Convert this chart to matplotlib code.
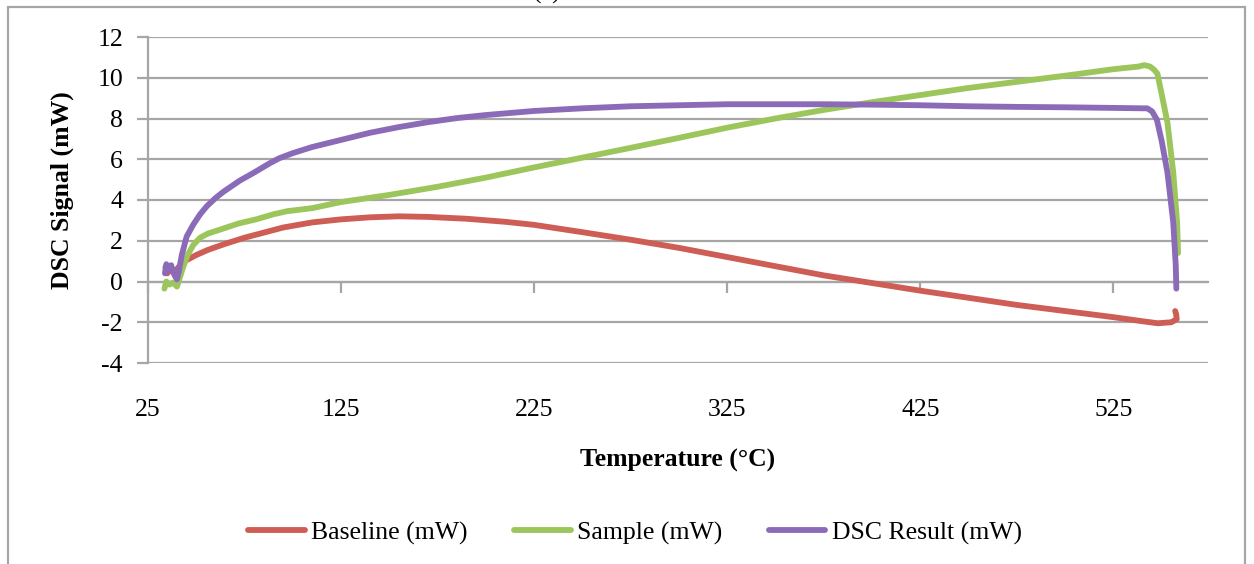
import matplotlib
matplotlib.use("Agg")
import matplotlib.pyplot as plt
from matplotlib.patches import Rectangle

# ---------------- data ----------------
baseline_T = [34, 35, 36.5, 38, 40, 42, 45, 50, 56, 65, 75, 85, 95, 110, 125, 140,
              155, 170, 190, 210, 225, 250, 275, 300, 325, 350, 375, 395, 425, 450,
              475, 500, 525, 540, 548, 555, 557.8, 557.5, 557]
baseline_V = [0.7, 0.4, 0.65, 0.45, 0.6, 0.85, 1.05, 1.3, 1.55, 1.85, 2.15, 2.4, 2.65,
              2.9, 3.05, 3.15, 3.2, 3.17, 3.08, 2.93, 2.78, 2.42, 2.05, 1.65, 1.2, 0.75,
              0.3, 0.0, -0.45, -0.8, -1.15, -1.45, -1.75, -1.95, -2.05, -2.0, -1.85,
              -1.6, -1.45]

sample_T = [33.5, 34.5, 36, 38, 40, 41.5, 43, 45.5, 48.5, 52, 56, 64, 72, 81, 90, 97,
            110, 125, 150, 175, 200, 225, 250, 275, 300, 325, 350, 375, 400, 425, 450,
            475, 500, 525, 538, 541, 544, 546, 547.8, 550, 553, 556, 558, 558.5]
sample_V = [-0.35, 0.0, -0.15, -0.05, -0.25, 0.2, 0.65, 1.3, 1.8, 2.15, 2.35, 2.6, 2.85,
            3.05, 3.3, 3.45, 3.6, 3.9, 4.25, 4.65, 5.1, 5.6, 6.08, 6.56, 7.05, 7.55, 8.0,
            8.42, 8.8, 9.15, 9.5, 9.8, 10.1, 10.42, 10.55, 10.62, 10.55, 10.4, 10.2, 9.2,
            7.8, 5.35, 2.9, 1.4]

dsc_T = [33.8, 34.5, 35.5, 37, 38.5, 40, 41, 42.5, 45, 48.5, 52, 55.5, 60, 64, 72.5, 80,
         88, 93, 100, 110, 125, 140, 155, 170, 185, 200, 225, 250, 275, 300, 325, 350,
         375, 400, 425, 450, 475, 500, 525, 540, 542.5, 545, 547.5, 550, 553, 556,
         557.3, 557.6]
dsc_V = [0.4, 0.85, 0.55, 0.8, 0.35, 0.1, 0.5, 1.3, 2.2, 2.8, 3.3, 3.7, 4.1, 4.4, 4.95,
         5.35, 5.8, 6.05, 6.3, 6.6, 6.95, 7.3, 7.58, 7.82, 8.02, 8.17, 8.37, 8.5, 8.6,
         8.65, 8.7, 8.7, 8.7, 8.68, 8.65, 8.6, 8.57, 8.55, 8.52, 8.5, 8.5, 8.35, 7.95,
         6.9, 5.35, 2.9, 0.8, -0.35]

series_names = ["Baseline (mW)", "Sample (mW)", "DSC Result (mW)"]
x_ticks = [25, 125, 225, 325, 425, 525]
y_ticks = [-4, -2, 0, 2, 4, 6, 8, 10, 12]

# ---------------- style ----------------
FONT = "Liberation Serif"
plt.rcParams["font.family"] = [FONT, "DejaVu Serif"]
plt.rcParams["axes.unicode_minus"] = False
colors = ["#CE5D55", "#9CC65B", "#8B6BB8"]
grid_c = "#A6A6A6"

W, H = 1254, 564
fig = plt.figure(figsize=(W / 100, H / 100), dpi=100)
ax = fig.add_axes([148 / W, 1 - 363 / H, (1208 - 148) / W, (363 - 37) / H])

lw = 4.2
for T, V, c, name in zip([baseline_T, sample_T, dsc_T], [baseline_V, sample_V, dsc_V],
                         colors, series_names):
    ax.plot(T, V, color=c, lw=lw, solid_capstyle="round", solid_joinstyle="round",
            label=name, zorder=3)

ax.set_xlim(25, 574)
ax.set_ylim(-4, 12)
ax.set_yticks(y_ticks)
ax.set_xticks(x_ticks)
ax.grid(axis="y", color=grid_c, lw=1.6)
ax.grid(axis="x", visible=False)
ax.set_axisbelow(True)

for s in ["top", "right", "bottom"]:
    ax.spines[s].set_visible(False)
ax.spines["left"].set_color(grid_c)
ax.spines["left"].set_linewidth(1.6)

ax.tick_params(axis="y", direction="out", length=8, width=1.6, color=grid_c,
               pad=10, labelsize=18.5)
ax.tick_params(axis="x", length=0, pad=26, labelsize=18.5)

# horizontal axis drawn at y = 0 with its tick marks
sec = ax.secondary_xaxis(4 / 16)
sec.set_xticks(x_ticks)
sec.tick_params(axis="x", direction="out", length=8, width=1.6, color=grid_c,
                labelbottom=False, labeltop=False)
for s in sec.spines.values():
    s.set_color(grid_c)
    s.set_linewidth(1.6)

ax.set_xlabel("Temperature (°C)", fontsize=18.5, fontweight="bold", labelpad=20)
ax.set_ylabel("DSC Signal (mW)", fontsize=18.5, fontweight="bold")
ax.yaxis.set_label_coords(74 / W, 1 - 190 / H, transform=fig.transFigure)

fig.legend(loc="center", bbox_to_anchor=(635 / W, 1 - 533 / H), ncol=3,
           frameon=False, fontsize=18.5, handlelength=2.2, handletextpad=0.25,
           columnspacing=1.8)

# chart frame
fig.patches.append(Rectangle((8 / W, -0.1), (1245 - 8) / W, 1.1 - 7 / H,
                             transform=fig.transFigure, fill=False,
                             edgecolor=grid_c, lw=1.6))
fig.text(547 / W, 1 + 1 / H, "(c)", ha="center", va="baseline", fontsize=18.5)

fig.savefig("out.png", dpi=100)
